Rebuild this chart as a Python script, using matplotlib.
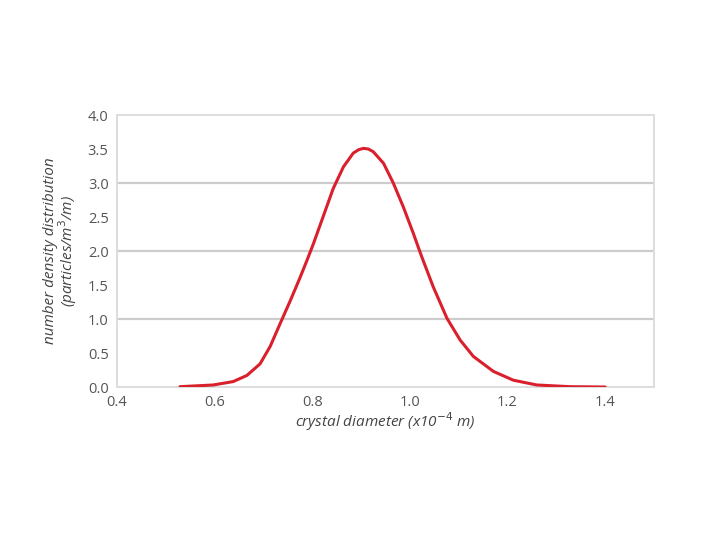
import matplotlib.pyplot as plt

# values
diameter = [0.529, 0.597, 0.638, 0.666, 0.693, 0.714, 0.734, 0.755, 0.775,
            0.789, 0.802, 0.823, 0.843, 0.864, 0.884, 0.895, 0.905, 0.915,
            0.925, 0.946, 0.966, 0.987, 1.007, 1.024, 1.048, 1.076, 1.103,
            1.130, 1.171, 1.212, 1.260, 1.328, 1.400]
density = [0.005, 0.03, 0.08, 0.17, 0.34, 0.60, 0.93, 1.27, 1.61,
           1.86, 2.10, 2.52, 2.92, 3.24, 3.44, 3.49, 3.51, 3.50,
           3.46, 3.29, 3.00, 2.64, 2.26, 1.92, 1.47, 1.01, 0.69,
           0.45, 0.23, 0.10, 0.03, 0.005, 0.0]
x_ticks = [0.4, 0.6, 0.8, 1.0, 1.2, 1.4]
y_ticks = [0.0, 0.5, 1.0, 1.5, 2.0, 2.5, 3.0, 3.5, 4.0]

plt.rcParams['font.family'] = ['Open Sans', 'DejaVu Sans']

fig = plt.figure(figsize=(7.2, 5.4), dpi=100)
ax = fig.add_axes([0.1625, 0.2833, 0.7458, 0.5037])

# grid lines only at whole numbers
for g in [1.0, 2.0, 3.0]:
    ax.axhline(g, color='#cccccc', linewidth=1.6, zorder=1)

ax.plot(diameter, density, color='#d9202c', linewidth=2.2, zorder=3,
        solid_joinstyle='round', solid_capstyle='round')

ax.set_xlim(0.4, 1.5)
ax.set_ylim(0, 4.0)
ax.set_xticks(x_ticks)
ax.set_xticklabels(['%.1f' % v for v in x_ticks])
ax.set_yticks(y_ticks)
ax.set_yticklabels(['%.1f' % v for v in y_ticks])
ax.tick_params(length=0, labelsize=10.5, colors='#555555', pad=6)

for s in ax.spines.values():
    s.set_color('#dddddd')
    s.set_linewidth(1.4)

ax.set_xlabel('crystal diameter (x10$^{-4}$ m)', fontsize=11, style='italic',
              color='#444444', labelpad=0)
ax.set_ylabel('number density distribution\n(particles/m$^{3}$/m)', fontsize=11,
              style='italic', color='#444444', labelpad=6, linespacing=0.95)

fig.savefig('out.png', dpi=100)
